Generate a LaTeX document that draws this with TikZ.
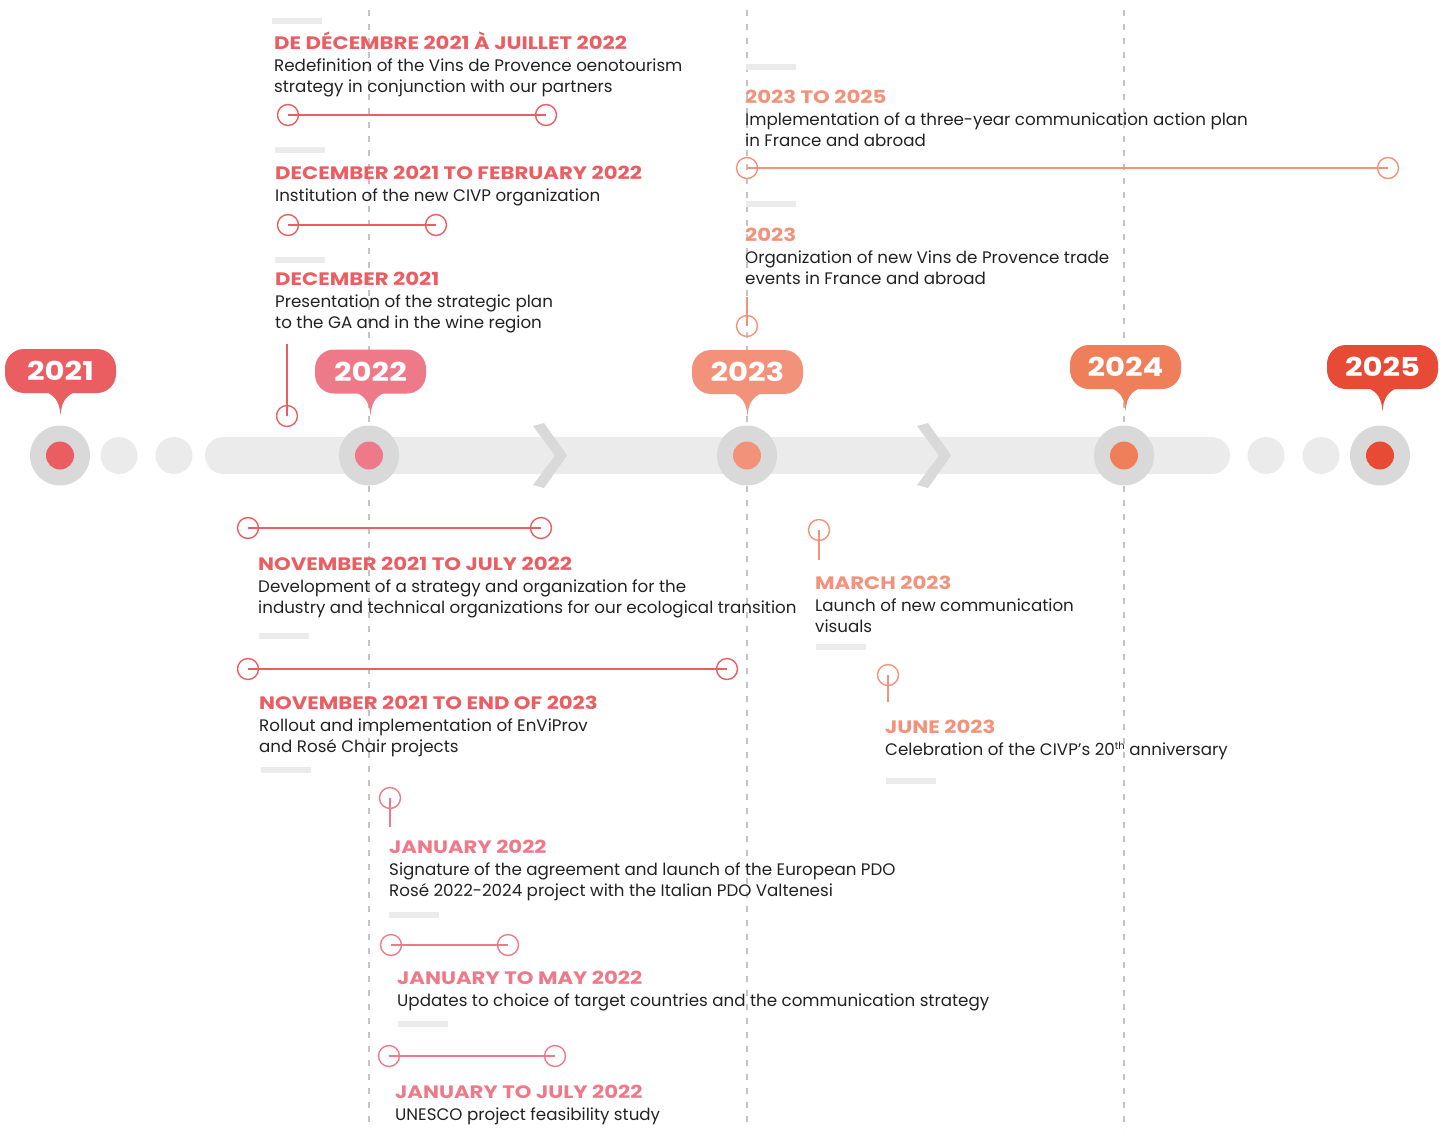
\documentclass[tikz,border=0pt]{standalone}
\usepackage{fontspec}
\setmainfont{Poppins}
\newfontfamily\headfont{Poppins}[FakeStretch=1.18]
\usetikzlibrary{positioning}
\definecolor{redA}{HTML}{EA5E62}
\definecolor{pinkB}{HTML}{EE7A89}
\definecolor{salmonC}{HTML}{F3927B}
\definecolor{orangeD}{HTML}{EF7F5A}
\definecolor{redE}{HTML}{E84B35}
\definecolor{barcol}{HTML}{EBEBEB}
\definecolor{ringcol}{HTML}{D9D9D9}
\definecolor{dashcol}{HTML}{C4C4C4}
\definecolor{inkcol}{HTML}{222222}
\newcommand{\evhead}[2]{{\headfont\bfseries\fontsize{18}{21}\selectfont\color{#1}#2}}
\newcommand{\smallsup}[1]{\raisebox{5.5pt}{\fontsize{10}{10}\selectfont #1}}
\newcommand{\yeartail}[2]{%
  \fill[#2] ([xshift=-16pt,yshift=2pt]#1.south)
    .. controls ([xshift=-4pt,yshift=-3pt]#1.south) and ([xshift=-1pt,yshift=-10pt]#1.south) .. ([yshift=-22pt]#1.south)
    .. controls ([xshift=1pt,yshift=-10pt]#1.south) and ([xshift=4pt,yshift=-3pt]#1.south) .. ([xshift=16pt,yshift=2pt]#1.south) -- cycle;}

\begin{document}
\begin{tikzpicture}[x=1pt,y=-1pt,
    yearbox/.style={fill=#1, text=white, rounded corners=19pt, minimum width=111pt,
      minimum height=44pt, inner sep=0pt, font=\headfont\bfseries\fontsize{26}{26}\selectfont},
    ring/.style={circle, fill=ringcol, minimum size=60pt, inner sep=0pt},
    core/.style={circle, fill=#1, minimum size=28pt, inner sep=0pt},
    pale/.style={circle, fill=barcol, minimum size=37pt, inner sep=0pt},
    % placed at the baseline of the last line
    ev/.style={anchor=base west, align=left, inner sep=0pt, text=inkcol,
      font=\fontsize{16.7}{21}\selectfont},
    endpt/.style={circle, draw=#1, line width=1.4pt, minimum size=21pt, inner sep=0pt},
    link/.style={draw=#1, line width=1.4pt},
    tickbar/.style={fill=barcol, minimum width=50pt, minimum height=6pt, inner sep=0pt, anchor=north west},
    guide/.style={dashcol, line width=1.4pt, dash pattern=on 6pt off 8pt}]
  \useasboundingbox (0,0) rectangle (1445,1135);

  % year guides
  \foreach \gx in {369,747,1124}
    \draw[guide] (\gx,10) -- (\gx,1130);

  % the bar
  \fill[barcol, rounded corners=18.5pt] (205,437) rectangle (1230,474);
  \foreach \cx in {533,917}
    \fill[ringcol] (\cx,426) -- (\cx+11,423) -- (\cx+34,455.5) -- (\cx+11,488) -- (\cx,485) -- (\cx+22,455.5) -- cycle;
  \foreach \px/\pn in {119/a,174/b,1266/c,1321/d}
    \node[pale] (p\pn) at (\px,455.5) {};

  \node[ring] (r2021) at (60,455.5) {};
  \node[ring] (r2022) at (369,455.5) {};
  \node[ring] (r2023) at (747,455.5) {};
  \node[ring] (r2024) at (1124,455.5) {};
  \node[ring] (r2025) at (1380,455.5) {};
  \node[core=redA] at (r2021) {};
  \node[core=pinkB] at (r2022) {};
  \node[core=salmonC] at (r2023) {};
  \node[core=orangeD] at (r2024) {};
  \node[core=redE] at (r2025) {};

  % years
  \node[yearbox=redA] (y2021) at (60.5,371) {2021};
  \node[yearbox=pinkB] (y2022) at (370.5,371.5) {2022};
  \node[yearbox=salmonC] (y2023) at (747.5,372) {2023};
  \node[yearbox=orangeD] (y2024) at (1125.5,367) {2024};
  \node[yearbox=redE] (y2025) at (1382.5,367) {2025};
  \yeartail{y2021}{redA}
  \yeartail{y2022}{pinkB}
  \yeartail{y2023}{salmonC}
  \yeartail{y2024}{orangeD}
  \yeartail{y2025}{redE}

  % above the line
  \node[tickbar] (t1) at (272,18) {};
  \node[ev] (e1) at (274,92) {\evhead{redA}{DE DÉCEMBRE 2021 À JUILLET 2022}\\[1pt]
    Redefinition of the Vins de Provence oenotourism\\ strategy in conjunction with our partners};
  \node[endpt=redA] (e1a) at (288,115) {};
  \node[endpt=redA] (e1b) at (546,115) {};
  \draw[link=redA] (e1a.center) -- (e1b.center);

  \node[tickbar] (t2) at (275,147) {};
  \node[ev] (e2) at (275,201) {\evhead{redA}{DECEMBER 2021 TO FEBRUARY 2022}\\[1pt]
    Institution of the new CIVP organization};
  \node[endpt=redA] (e2a) at (288,225) {};
  \node[endpt=redA] (e2b) at (436,225) {};
  \draw[link=redA] (e2a.center) -- (e2b.center);

  \node[tickbar] (t3) at (275,257) {};
  \node[ev] (e3) at (275,328) {\evhead{redA}{DECEMBER 2021}\\[1pt]
    Presentation of the strategic plan\\ to the GA and in the wine region};
  \node[endpt=redA] (e3a) at (287,416) {};
  \coordinate (e3b) at (287,344);
  \draw[link=redA] (e3a.center) -- (e3b);

  \node[tickbar] (t4) at (746,64) {};
  \node[ev] (e4) at (745,146) {\evhead{salmonC}{2023 TO 2025}\\[1pt]
    Implementation of a three-year communication action plan\\ in France and abroad};
  \node[endpt=salmonC] (e4a) at (747,168) {};
  \node[endpt=salmonC] (e4b) at (1388,168) {};
  \draw[link=salmonC] (e4a.center) -- (e4b.center);

  \node[tickbar] (t5) at (746,201) {};
  \node[ev] (e5) at (745,284) {\evhead{salmonC}{2023}\\[1pt]
    Organization of new Vins de Provence trade\\ events in France and abroad};
  \node[endpt=salmonC] (e5a) at (747,326) {};
  \coordinate (e5b) at (747,297);
  \draw[link=salmonC] (e5a.center) -- (e5b);

  % below the line
  \node[endpt=redA] (e6a) at (248,528) {};
  \node[endpt=redA] (e6b) at (541,528) {};
  \draw[link=redA] (e6a.center) -- (e6b.center);
  \node[ev] (e6) at (258,613) {\evhead{redA}{NOVEMBER 2021 TO JULY 2022}\\[1pt]
    Development of a strategy and organization for the\\
    industry and technical organizations for our ecological transition};
  \node[tickbar] (t6) at (259,633) {};

  \node[endpt=redA] (e7a) at (248,669) {};
  \node[endpt=redA] (e7b) at (727,669) {};
  \draw[link=redA] (e7a.center) -- (e7b.center);
  \node[ev] (e7) at (259,752) {\evhead{redA}{NOVEMBER 2021 TO END OF 2023}\\[1pt]
    Rollout and implementation of EnViProv\\ and Rosé Chair projects};
  \node[tickbar] (t7) at (261,767) {};

  \node[endpt=salmonC] (e8a) at (819,530) {};
  \coordinate (e8b) at (819,560);
  \draw[link=salmonC] (e8a.center) -- (e8b);
  \node[ev] (e8) at (815,632) {\evhead{salmonC}{MARCH 2023}\\[1pt]
    Launch of new communication\\ visuals};
  \node[tickbar] (t8) at (816,644) {};

  \node[endpt=salmonC] (e9a) at (888,675) {};
  \coordinate (e9b) at (888,702);
  \draw[link=salmonC] (e9a.center) -- (e9b);
  \node[ev] (e9) at (885,755) {\evhead{salmonC}{JUNE 2023}\\[1pt]
    Celebration of the CIVP’s 20\smallsup{th} anniversary};
  \node[tickbar] (t9) at (886,778) {};

  \node[endpt=pinkB] (e10a) at (390,798) {};
  \coordinate (e10b) at (390,827);
  \draw[link=pinkB] (e10a.center) -- (e10b);
  \node[ev] (e10) at (389,896) {\evhead{pinkB}{JANUARY 2022}\\[1pt]
    Signature of the agreement and launch of the European PDO\\
    Rosé 2022-2024 project with the Italian PDO Valtenesi};
  \node[tickbar] (t10) at (389,912) {};

  \node[endpt=pinkB] (e11a) at (391,945) {};
  \node[endpt=pinkB] (e11b) at (508,945) {};
  \draw[link=pinkB] (e11a.center) -- (e11b.center);
  \node[ev] (e11) at (397,1006) {\evhead{pinkB}{JANUARY TO MAY 2022}\\[1pt]
    Updates to choice of target countries and the communication strategy};
  \node[tickbar] (t11) at (398,1021) {};

  \node[endpt=pinkB] (e12a) at (389,1056) {};
  \node[endpt=pinkB] (e12b) at (555,1056) {};
  \draw[link=pinkB] (e12a.center) -- (e12b.center);
  \node[ev] (e12) at (395,1120) {\evhead{pinkB}{JANUARY TO JULY 2022}\\[1pt]
    UNESCO project feasibility study};
\end{tikzpicture}
\end{document}
